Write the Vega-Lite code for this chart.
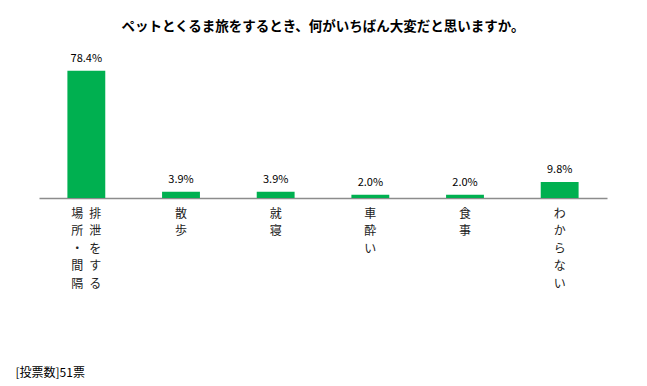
{
  "$schema": "https://vega.github.io/schema/vega-lite/v6.json",
  "width": 568,
  "height": 146,
  "padding": {"left": 15, "top": 19, "right": 40, "bottom": 5},
  "background": "white",
  "config": {
    "view": {"stroke": null},
    "font": "Noto Sans CJK JP"
  },
  "title": {
    "text": "ペットとくるま旅をするとき、何がいちばん大変だと思いますか。",
    "fontSize": 13.5,
    "fontWeight": "bold",
    "color": "#000000",
    "font": "Noto Sans CJK JP",
    "offset": 19,
    "anchor": "middle"
  },
  "data": {
    "values": [
      {"category": "排泄をする場所・間隔", "value": 78.4, "label": "78.4%"},
      {"category": "散歩", "value": 3.9, "label": "3.9%"},
      {"category": "就寝", "value": 3.9, "label": "3.9%"},
      {"category": "車酔い", "value": 2.0, "label": "2.0%"},
      {"category": "食事", "value": 2.0, "label": "2.0%"},
      {"category": "わからない", "value": 9.8, "label": "9.8%"}
    ]
  },
  "encoding": {
    "x": {
      "field": "category",
      "type": "nominal",
      "sort": null,
      "scale": {"paddingInner": 0.6, "paddingOuter": 0.3},
      "axis": {
        "title": "[投票数]51票",
        "titleFontSize": 12,
        "titleFontWeight": "normal",
        "titleColor": "#000000",
        "titleAlign": "left",
        "titleAnchor": "start",
        "titleBaseline": "middle",
        "titleX": -24,
        "titleY": 174,
        "labelAngle": 0,
        "labelFontSize": 12,
        "labelColor": "#222222",
        "labelLineHeight": 17.5,
        "labelPadding": 10,
        "labelBaseline": "top",
        "labelOverlap": false,
        "labelBound": false,
        "labelExpr": "datum.value == '排泄をする場所・間隔' ? ['場\u2002排','所\u2002泄','・\u2002を','間\u2002す','隔\u2002る'] : split(datum.value, '')",
        "ticks": false,
        "domainColor": "#8c8c8c",
        "domainWidth": 1.5,
        "grid": false
      }
    },
    "y": {
      "field": "value",
      "type": "quantitative",
      "scale": {"domain": [0, 90]},
      "axis": null
    }
  },
  "layer": [
    {"mark": {"type": "bar", "color": "#00B050"}},
    {
      "mark": {"type": "text", "baseline": "alphabetic", "dy": -9, "fontSize": 11, "color": "#000000", "font": "Noto Sans CJK JP"},
      "encoding": {"text": {"field": "label"}}
    }
  ]
}
